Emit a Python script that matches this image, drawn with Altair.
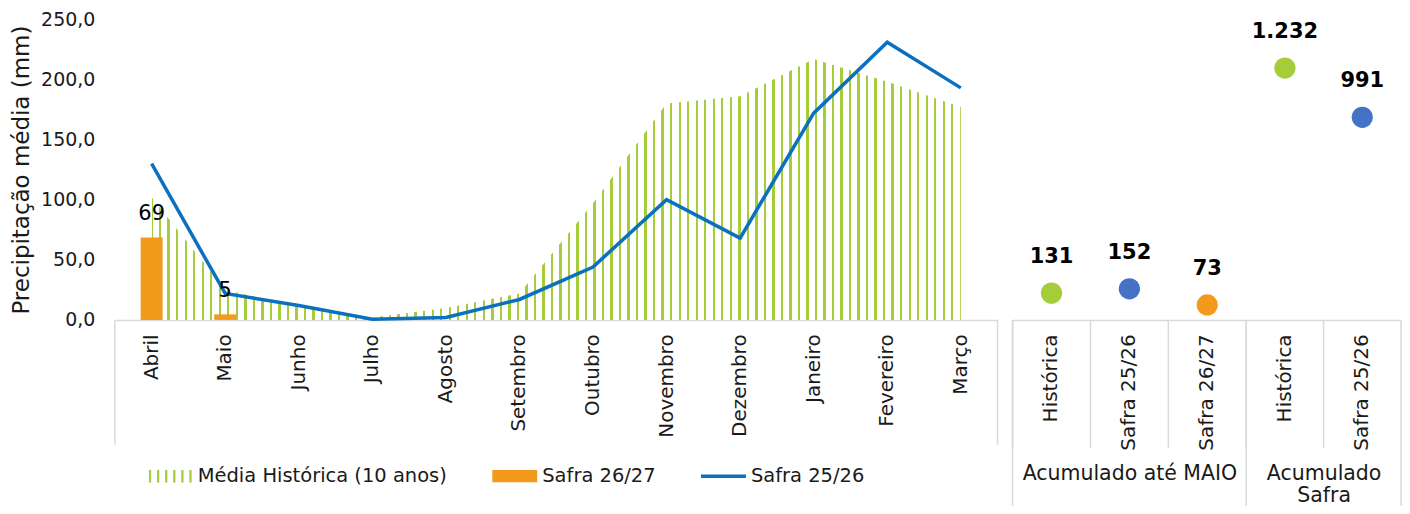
import altair as alt
import pandas as pd

# ---------------- data ----------------
meses = ["Abril", "Maio", "Junho", "Julho", "Agosto", "Setembro", "Outubro",
         "Novembro", "Dezembro", "Janeiro", "Fevereiro", "Março"]
media_historica = [102, 25, 11, 2, 10, 22, 97, 180, 186, 217, 198, 177]
safra_2526 = [130, 22, 12, 0.5, 2, 17, 44, 100, 68, 172, 231, 193]
meses_2627 = ["Abril", "Maio"]
safra_2627 = [68.6, 4.6]

series = ["Média Histórica (10 anos)", "Safra 26/27", "Safra 25/26"]

cats_maio = ["Histórica", "Safra 25/26", "Safra 26/27"]
acum_maio = [131, 152, 73]
cats_safra = ["Histórica", "Safra 25/26"]
acum_safra = [1232, 991]

# ---------------- style ----------------
VERDE = "#A5CD39"
LARANJA = "#F39A1C"
AZUL_LINHA = "#0A70BF"
AZUL_PONTO = "#4472C4"
CINZA = "#D9D9D9"
TEXTO = "#1a1a1a"
FONTE = "DejaVu Sans"

W_ESQ, W_P1, W_P2, H = 884, 234, 155, 301
BAIXO = 487  # bottom end of the full-height group separators (plot coords)

# striped fill (vertical hatch) as a hard-stop horizontal gradient
n_listras = 95
larg = 0.28 / n_listras
stops = []
for i in range(n_listras + 1):
    c = i / n_listras
    a = max(c - larg / 2, 0.0)
    b = min(c + larg / 2, 1.0)
    stops += [alt.GradientStop(color="#ffffff", offset=a),
              alt.GradientStop(color=VERDE, offset=a),
              alt.GradientStop(color=VERDE, offset=b),
              alt.GradientStop(color="#ffffff", offset=b)]
listras = alt.LinearGradient(gradient="linear", stops=stops, x1=0, x2=1, y1=0, y2=0)

# legend symbols
path_listras = " ".join(
    f"M{x - 0.05:.2f},-0.28h0.1v0.56h-0.1z" for x in [-0.9, -0.54, -0.18, 0.18, 0.54, 0.9]
)
path_barra = "M-1,-0.27h2v0.54h-2z"
path_linha = "M-1,-0.08h2v0.16h-2z"

# ---------------- left panel ----------------
df = pd.DataFrame({"mes": meses, "hist": media_historica, "s2526": safra_2526})
df_bar = pd.DataFrame({"mes": meses_2627, "s2627": safra_2627})
df_leg = pd.DataFrame({"serie": series})

eixo_x_meses = alt.Axis(title=None, labelAngle=270, labelAlign="right", labelBaseline="middle",
                        labelPadding=14, ticks=False, domainColor=CINZA, domainWidth=1.5,
                        labelFontSize=20, labelColor=TEXTO, labelOverlap=False)
x_mes = alt.X("mes:N", sort=meses, scale=alt.Scale(paddingInner=0, paddingOuter=0),
              axis=eixo_x_meses)
eixo_y = alt.Axis(title="Precipitação média (mm)", values=[0, 50, 100, 150, 200, 250],
                  labelExpr="replace(format(datum.value, '.1f'), '.', ',')",
                  ticks=False, domain=False, grid=False, labelPadding=20,
                  labelFontSize=19, labelColor=TEXTO, titleFontSize=23,
                  titleFontWeight="normal", titleColor=TEXTO, titlePadding=7)
y_esc = alt.Scale(domain=[0, 250], nice=False)

area = alt.Chart(df).mark_area(color=listras, opacity=1, interpolate="linear").encode(
    x=x_mes, y=alt.Y("hist:Q", scale=y_esc, axis=eixo_y)
)
barras = alt.Chart(df_bar).mark_bar(color=LARANJA, size=22).encode(
    x=x_mes, y=alt.Y("s2627:Q", scale=y_esc, axis=eixo_y)
)
rot_barras = alt.Chart(df_bar).mark_text(dy=-23, fontSize=21, color="#000000").encode(
    x=x_mes, y=alt.Y("s2627:Q", scale=y_esc, axis=eixo_y),
    text=alt.Text("s2627:Q", format=".0f")
)
linha = alt.Chart(df).mark_line(color=AZUL_LINHA, strokeWidth=3.5).encode(
    x=x_mes, y=alt.Y("s2526:Q", scale=y_esc, axis=eixo_y)
)
bordas_esq = alt.layer(
    alt.Chart(df_bar.head(1)).mark_rule(color=CINZA, strokeWidth=1.5).encode(
        x=alt.value(0), y=alt.value(H), y2=alt.value(H + 125)),
    alt.Chart(df_bar.head(1)).mark_rule(color=CINZA, strokeWidth=1.5).encode(
        x=alt.value(W_ESQ), y=alt.value(H), y2=alt.value(H + 125)),
)
legenda = alt.Legend(title=None, orient="none", direction="horizontal", legendX=33, legendY=435,
                     symbolSize=2025, symbolStrokeWidth=0, labelFontSize=19.5, labelLimit=500,
                     labelColor=TEXTO, labelOffset=5, columnPadding=45, labelFont=FONTE)
camada_legenda = alt.Chart(df_leg).mark_point(filled=True, opacity=1).encode(
    color=alt.Color("serie:N", scale=alt.Scale(domain=series, range=[VERDE, LARANJA, AZUL_LINHA]),
                    legend=legenda),
    shape=alt.Shape("serie:N", scale=alt.Scale(domain=series, range=[path_listras, path_barra, path_linha]),
                    legend=legenda),
).transform_filter("false")

esquerda = alt.layer(area, barras, linha, rot_barras, bordas_esq, camada_legenda).properties(
    width=W_ESQ, height=H)

# ---------------- right panels ----------------
cor_cats = alt.Scale(domain=["Histórica", "Safra 25/26", "Safra 26/27"],
                     range=[VERDE, AZUL_PONTO, LARANJA])


def painel(cats, vals, titulo, largura, borda_direita):
    d = pd.DataFrame({"cat": cats, "valor": vals})
    eixo = alt.Axis(title=titulo, labelAngle=270, labelAlign="right", labelBaseline="middle",
                    labelPadding=14, ticks=False, domainColor=CINZA, domainWidth=1.5,
                    labelFontSize=20, labelColor=TEXTO, labelOverlap=False,
                    titleFontSize=20.5, titleFontWeight="normal", titleColor=TEXTO,
                    titleBaseline="top", titleY=144, titleLineHeight=22)
    esc_x = alt.Scale(paddingInner=0, paddingOuter=0)
    xenc = alt.X("cat:N", sort=cats, scale=esc_x, axis=eixo)
    yenc = alt.Y("valor:Q", scale=alt.Scale(domain=[0, 1470], nice=False), axis=None)
    pontos = alt.Chart(d).mark_circle(size=452, opacity=1).encode(
        x=xenc, y=yenc, color=alt.Color("cat:N", scale=cor_cats, legend=None))
    rotulos = alt.Chart(d).transform_calculate(
        rot="replace(format(datum.valor, ','), ',', '.')"
    ).mark_text(dy=-36, fontSize=21, fontWeight="bold", color="#000000").encode(
        x=xenc, y=yenc, text="rot:N")
    divisoes = alt.Chart(d).mark_rule(color=CINZA, strokeWidth=1.5).encode(
        x=alt.X("cat:N", sort=cats, scale=esc_x, axis=eixo, bandPosition=0),
        y=alt.value(H), y2=alt.value(H + 128))
    camadas = [divisoes,
               alt.Chart(d.head(1)).mark_rule(color=CINZA, strokeWidth=1.5).encode(
                   x=alt.value(0), y=alt.value(H), y2=alt.value(BAIXO))]
    if borda_direita:
        camadas.append(alt.Chart(d.head(1)).mark_rule(color=CINZA, strokeWidth=1.5).encode(
            x=alt.value(largura), y=alt.value(H), y2=alt.value(BAIXO)))
    return alt.layer(*camadas, pontos, rotulos).properties(width=largura, height=H)


p1 = painel(cats_maio, acum_maio, "Acumulado até MAIO", W_P1, False)
p2 = painel(cats_safra, acum_safra, ["Acumulado", "Safra"], W_P2, True)

direita = alt.hconcat(p1, p2, spacing=0, bounds="flush").resolve_scale(
    x="independent", y="independent", color="independent")

chart = alt.hconcat(esquerda, direita, spacing=15, bounds="flush").resolve_scale(
    x="independent", y="independent", color="independent", shape="independent"
).properties(
    padding={"left": 2, "top": 2, "right": 0, "bottom": 0}
).configure(font=FONTE).configure_view(stroke="transparent", strokeWidth=0)

chart.save("out.html", embed_options={"renderer": "svg", "actions": False})
